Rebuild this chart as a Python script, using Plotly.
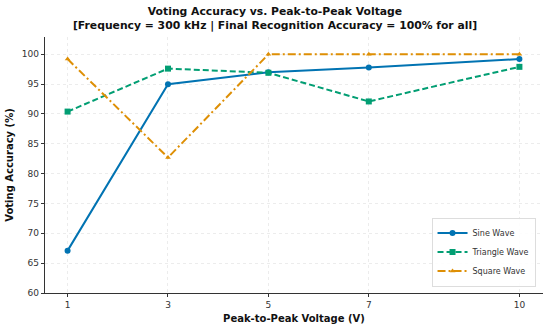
import plotly.graph_objects as go

voltages = [1, 3, 5, 7, 10]
sine_acc = [67.1, 95.0, 97.0, 97.8, 99.2]
triangle_acc = [90.4, 97.6, 96.9, 92.1, 97.9]
square_acc = [99.2, 82.7, 100.0, 100.0, 100.0]
y_ticks = [60, 65, 70, 75, 80, 85, 90, 95, 100]

fig = go.Figure()
fig.add_trace(go.Scatter(x=voltages, y=sine_acc, name="Sine Wave", mode="lines+markers",
                         line=dict(color="#0173B2", width=2, dash="solid"),
                         marker=dict(symbol="circle", size=6, color="#0173B2")))
fig.add_trace(go.Scatter(x=voltages, y=triangle_acc, name="Triangle Wave", mode="lines+markers",
                         line=dict(color="#029E73", width=2, dash="6px,3px"),
                         marker=dict(symbol="square", size=6, color="#029E73")))
fig.add_trace(go.Scatter(x=voltages, y=square_acc, name="Square Wave", mode="lines+markers",
                         line=dict(color="#DE8F05", width=2, dash="8px,3px,2px,3px"),
                         marker=dict(symbol="triangle-up", size=5, color="#DE8F05")))

font = "DejaVu Sans"
fig.update_layout(
    width=550, height=330,
    margin=dict(l=45, r=7, t=37, b=37),
    paper_bgcolor="white", plot_bgcolor="white",
    font=dict(family=font, color="#333333", size=9),
    title=dict(text="<b>Voting Accuracy vs. Peak-to-Peak Voltage<br>[Frequency = 300 kHz | Final Recognition Accuracy = 100% for all]</b>",
               x=0.5, xanchor="center", y=0.955, yanchor="middle",
               font=dict(family=font, size=10.8, color="#111111")),
    xaxis=dict(range=[0.55, 10.47], tickvals=voltages, ticktext=[str(v) for v in voltages],
               showgrid=True, gridcolor="#ececec", griddash="dot", gridwidth=1,
               showline=True, linecolor="#333333", linewidth=1.3,
               ticks="outside", ticklen=3, tickcolor="#333333",
               zeroline=False,
               title=dict(text="<b>Peak-to-Peak Voltage (V)</b>", font=dict(size=10, color="#111111"), standoff=6),
               tickfont=dict(size=9, color="#333333")),
    yaxis=dict(range=[60, 102.9], tickvals=y_ticks,
               showgrid=True, gridcolor="#ececec", griddash="dot", gridwidth=1,
               showline=True, linecolor="#333333", linewidth=1.3,
               ticks="outside", ticklen=3, tickcolor="#333333",
               zeroline=False,
               title=dict(text="<b>Voting Accuracy (%)</b>", font=dict(size=10, color="#111111"), standoff=6),
               tickfont=dict(size=9, color="#333333")),
    legend=dict(x=0.985, y=0.025, xanchor="right", yanchor="bottom",
                bgcolor="rgba(255,255,255,0.9)", bordercolor="#dddddd", borderwidth=1,
                font=dict(size=8, color="#333333"), itemwidth=30, tracegroupgap=0),
    showlegend=True,
)

fig.write_html("out.html", config={"displayModeBar": False},
               post_script="document.body.style.margin='0';")
